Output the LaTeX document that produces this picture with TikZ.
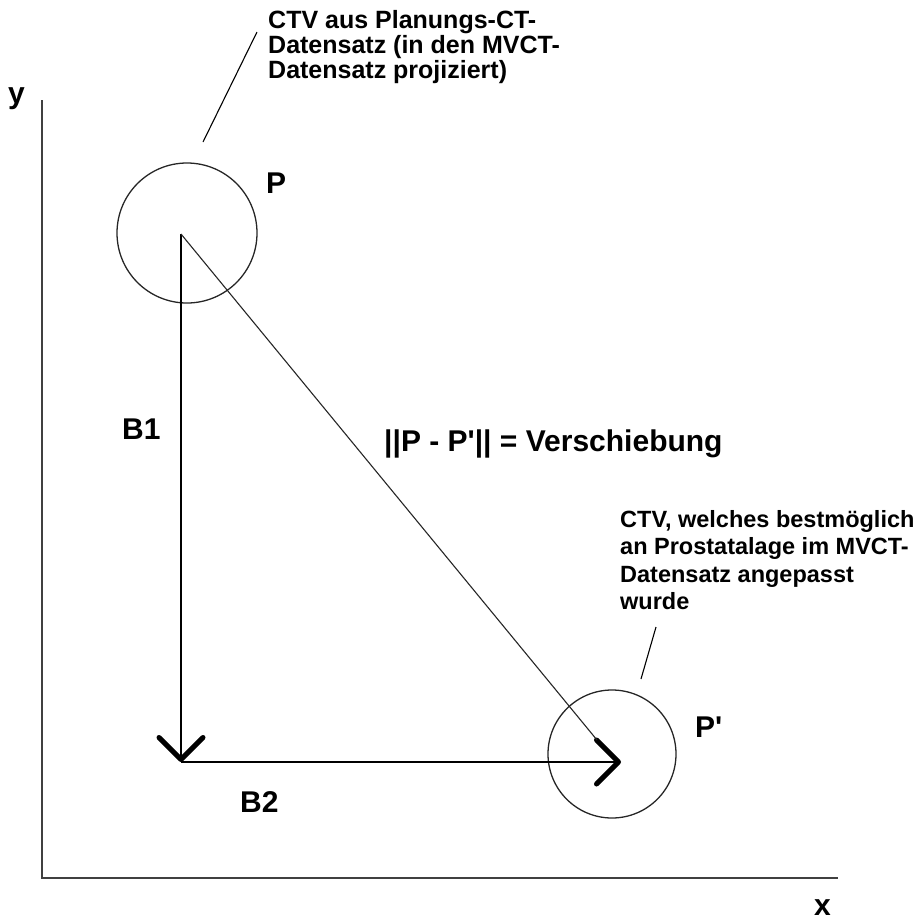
\documentclass[tikz,border=0pt]{standalone}
\usepackage{fontspec}
\setmainfont{Liberation Sans}
\usetikzlibrary{arrows.meta}

\begin{document}
\begin{tikzpicture}[x=1pt,y=-1pt,
  lbl/.style={inner sep=0pt,anchor=base west,font=\fontsize{30}{36}\selectfont\bfseries},
  note/.style={inner sep=0pt,align=left,anchor=north west,font=\fontsize{25}{25}\selectfont\bfseries},
  ctv/.style={draw=black!85,line width=1.3pt,circle,inner sep=0pt},
  ax/.style={draw=black!75,line width=2.4pt},
  vec/.style={line width=1.3pt,-{Straight Barb[length=22pt,width=44pt,line width=5pt,round]}}]
  \useasboundingbox (0,0) rectangle (924,922);
  % axes
  \coordinate (ytop) at (42,100);\coordinate (origin) at (42,878);\coordinate (xend) at (838,878);
  \draw[ax] (ytop)--(origin)--(xend);
  \node[lbl] (ylab) at (8,103) {y};\node[lbl] (xlab) at (814,915) {x};
  % CTV circles
  \node[ctv,minimum size=140pt](ctvP) at (187,233){};\node[ctv,minimum size=128pt](ctvQ) at (612,754){};
  \node[lbl](labP) at (266,193){P};\node[lbl](labQ) at (695,737){P\textquotesingle};
  % displacement
  \coordinate (p) at (181,234);\coordinate (corner) at (181,762);\coordinate (q) at (621,762);
  \coordinate (dEnd) at (597,740);
  \draw[vec] (p)--(corner);\draw[vec] (corner)--(q);
  \draw[line width=1.1pt,black!85] (p)--(dEnd);
  \node[lbl](b1) at (122,439){B1};\node[lbl](b2) at (240,812){B2};
  \node[lbl](dist) at (384,451){||P - P\textquotesingle|| = Verschiebung};
  % notes
  \node[note](noteP) at (268,10){CTV aus Planungs-CT-\\Datensatz (in den MVCT-\\Datensatz projiziert)};
  \node[note,font=\fontsize{23.5}{27.5}\selectfont\bfseries](noteQ) at (620,510){CTV, welches bestmöglich\\an Prostatalage im MVCT-\\Datensatz angepasst\\wurde};
  \coordinate (a1) at (257,32);\coordinate (a2) at (203,142);
  \coordinate (b1a) at (656,627);\coordinate (b1b) at (641,679);
  \draw[line width=1.1pt] (a1)--(a2);\draw[line width=1.1pt] (b1a)--(b1b);
\end{tikzpicture}
\end{document}
